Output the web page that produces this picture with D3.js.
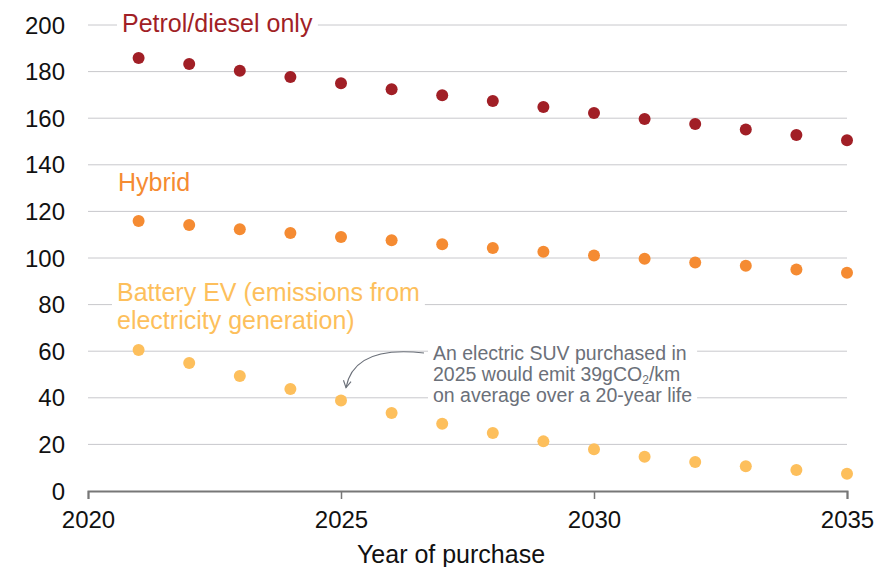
<!DOCTYPE html>
<html>
<head>
<meta charset="utf-8">
<script src="https://cdn.jsdelivr.net/npm/d3@7"></script>
<style>
  body { margin: 0; background: #fff; }
  svg { display: block; font-family: "Liberation Sans", Arial, sans-serif; }
</style>
</head>
<body>
<div id="chart"></div>
<script>
const years = [2021, 2022, 2023, 2024, 2025, 2026, 2027, 2028, 2029, 2030, 2031, 2032, 2033, 2034, 2035];
const petrol = [185.8, 183.3, 180.4, 177.7, 175.0, 172.4, 169.8, 167.4, 164.8, 162.2, 159.7, 157.5, 155.1, 152.8, 150.5];
const hybrid = [115.9, 114.2, 112.3, 110.7, 109.0, 107.6, 105.9, 104.3, 102.7, 101.1, 99.7, 98.1, 96.7, 95.1, 93.7];
const bev = [60.5, 54.9, 49.4, 43.8, 38.8, 33.5, 28.9, 24.9, 21.3, 17.9, 14.7, 12.4, 10.6, 9.0, 7.4];
const yTicks = [0, 20, 40, 60, 80, 100, 120, 140, 160, 180, 200];
const xTicks = [2020, 2025, 2030, 2035];

const series = [
    { name: 'petrol', values: petrol, color: '#a11f26', label: ['Petrol/diesel only'], lx: 122, ly: 32 },
    { name: 'hybrid', values: hybrid, color: '#f58b32', label: ['Hybrid'], lx: 118, ly: 191 },
    { name: 'bev', values: bev, color: '#fdbf5c', label: ['Battery EV (emissions from', 'electricity generation)'], lx: 117, ly: 301 }
];

const width = 879, height = 567;
const svg = d3.select('#chart').append('svg')
    .attr('width', width)
    .attr('height', height);

const x = d3.scaleLinear().domain([2020, 2035]).range([88, 847]);
const y = d3.scaleLinear().domain([0, 200]).range([491, 25]);

// gridlines
svg.append('g')
    .selectAll('line')
    .data(yTicks.filter(d => d > 0))
    .join('line')
    .attr('x1', x(2020))
    .attr('x2', x(2035))
    .attr('y1', d => y(d))
    .attr('y2', d => y(d))
    .attr('stroke', '#c8c8cc')
    .attr('stroke-width', 1);

// y tick labels
svg.append('g')
    .selectAll('text')
    .data(yTicks)
    .join('text')
    .attr('x', 65)
    .attr('y', d => y(d) + 8.5)
    .attr('text-anchor', 'end')
    .attr('font-size', 24)
    .attr('fill', '#111')
    .text(d => d);

// x axis
const xAxis = svg.append('g')
    .attr('transform', `translate(0,${y(0)})`)
    .call(d3.axisBottom(x).tickValues(xTicks).tickFormat(d3.format('d')).tickSize(8).tickPadding(12));
xAxis.select('.domain').attr('stroke', '#777').attr('stroke-width', 2);
xAxis.selectAll('.tick line').attr('stroke', '#777').attr('stroke-width', 1.5);
xAxis.selectAll('.tick text')
    .attr('font-size', 24)
    .attr('fill', '#111')
    .attr('font-family', '"Liberation Sans", Arial, sans-serif');

svg.append('text')
    .attr('x', 451)
    .attr('y', 563)
    .attr('text-anchor', 'middle')
    .attr('font-size', 25)
    .attr('fill', '#111')
    .text('Year of purchase');

// series labels with white backing over gridlines
series.forEach(s => {
    const g = svg.append('g');
    const txt = g.append('text')
        .attr('font-size', 25)
        .attr('fill', s.color);
    s.label.forEach((line, i) => {
        txt.append('tspan')
            .attr('x', s.lx)
            .attr('y', s.ly + i * 27.5)
            .text(line);
    });
    const bb = txt.node().getBBox();
    g.insert('rect', 'text')
        .attr('x', bb.x - 5)
        .attr('y', bb.y)
        .attr('width', bb.width + 10)
        .attr('height', bb.height)
        .attr('fill', '#fff');
});

// annotation
const annLines = [
    ['An electric SUV purchased in'],
    ['2025 would emit 39gCO', '2', '/km'],
    ['on average over a 20-year life']
];
const ann = svg.append('g');
const annText = ann.append('text')
    .attr('font-size', 19.5)
    .attr('fill', '#6b7079');
annLines.forEach((parts, i) => {
    annText.append('tspan').attr('x', 433).attr('y', 360 + i * 21).text(parts[0]);
    if (parts.length > 1) {
        annText.append('tspan').attr('font-size', 12).attr('dy', 3).text(parts[1]);
        annText.append('tspan').attr('dy', -3).text(parts[2]);
    }
});
const abb = annText.node().getBBox();
ann.insert('rect', 'text')
    .attr('x', abb.x - 5)
    .attr('y', abb.y)
    .attr('width', abb.width + 10)
    .attr('height', abb.height)
    .attr('fill', '#fff');

svg.append('defs').append('marker')
    .attr('id', 'arr')
    .attr('viewBox', '0 0 10 10')
    .attr('refX', 8).attr('refY', 5)
    .attr('markerWidth', 8).attr('markerHeight', 8)
    .attr('orient', 'auto')
    .append('path')
    .attr('d', 'M1,1 L8,5 L1,9')
    .attr('fill', 'none')
    .attr('stroke', '#6b7079')
    .attr('stroke-width', 1.2);

const ax0 = 424, ay0 = 353;
const ax1 = x(2025) + 5, ay1 = y(bev[4]) - 13;
svg.append('path')
    .attr('d', `M${ax0},${ay0} Q${ax1 + 8},${ay0 - 8} ${ax1},${ay1}`)
    .attr('fill', 'none')
    .attr('stroke', '#6b7079')
    .attr('stroke-width', 1.2)
    .attr('marker-end', 'url(#arr)');

// dots
series.forEach(s => {
    svg.append('g')
        .selectAll('circle')
        .data(s.values.map((v, i) => ({ year: years[i], v })))
        .join('circle')
        .attr('cx', d => x(d.year))
        .attr('cy', d => y(d.v))
        .attr('r', 6)
        .attr('fill', s.color);
});
</script>
</body>
</html>
